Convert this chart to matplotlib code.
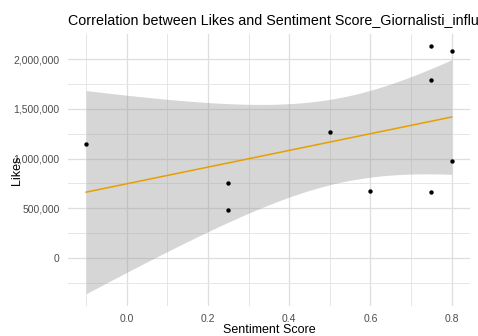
import numpy as np
import matplotlib
matplotlib.use("Agg")
import matplotlib.pyplot as plt
from matplotlib.ticker import FuncFormatter

plt.rcParams["font.family"] = ["Liberation Sans", "DejaVu Sans"]

# Sentiment score and like counts per post
sentiment = [-0.1, 0.25, 0.25, 0.5, 0.6, 0.75, 0.75, 0.75, 0.8, 0.8]
likes = [1150000, 750000, 480000, 1270000, 670000, 2130000, 1790000, 660000, 2080000, 980000]
x_ticks = [0.0, 0.2, 0.4, 0.6, 0.8]
y_ticks = [0, 500000, 1000000, 1500000, 2000000]

x = np.array(sentiment, dtype=float)
y = np.array(likes, dtype=float)
n = len(x)

# Ordinary least squares fit with a 95% confidence band
slope, intercept = np.polyfit(x, y, 1)
resid = y - (slope * x + intercept)
s = np.sqrt(np.sum(resid ** 2) / (n - 2))
t_crit = 2.306  # t(0.975, df=8)
xs = np.linspace(x.min(), x.max(), 80)
fit = slope * xs + intercept
se = s * np.sqrt(1 / n + (xs - x.mean()) ** 2 / np.sum((x - x.mean()) ** 2))
lo, hi = fit - t_crit * se, fit + t_crit * se

fig = plt.figure(figsize=(4.78, 3.36), dpi=100)
ax = fig.add_axes([0.142, 0.089, 0.841, 0.810])

ax.fill_between(xs, lo, hi, color="#999999", alpha=0.4, linewidth=0, zorder=2)
ax.plot(xs, fit, color="#E69F00", linewidth=1.1, zorder=3)
ax.scatter(x, y, s=10, color="black", zorder=4, linewidths=0)

xr = x.max() - x.min()
ax.set_xlim(x.min() - 0.05 * xr, x.max() + 0.05 * xr)
ymin, ymax = min(lo.min(), y.min()), max(hi.max(), y.max())
yr = ymax - ymin
ax.set_ylim(ymin - 0.05 * yr, ymax + 0.05 * yr)

ax.set_xticks(x_ticks)
ax.set_yticks(y_ticks)
ax.set_xticks([-0.1, 0.1, 0.3, 0.5, 0.7], minor=True)
ax.set_yticks([-250000, 250000, 750000, 1250000, 1750000], minor=True)
ax.xaxis.set_major_formatter(FuncFormatter(lambda v, p: f"{v:.1f}"))
ax.yaxis.set_major_formatter(FuncFormatter(lambda v, p: f"{int(round(v)):,}"))

ax.grid(which="major", color="#DEDEDE", linewidth=0.9, zorder=0)
ax.grid(which="minor", color="#E6E6E6", linewidth=0.7, zorder=0)
ax.set_axisbelow(True)
for sp in ax.spines.values():
    sp.set_visible(False)
ax.tick_params(which="both", length=0, labelsize=7.5, labelcolor="#4D4D4D", pad=6)

ax.set_xlabel("Sentiment Score", fontsize=9, labelpad=0)
ax.set_ylabel("Likes", fontsize=9, labelpad=-7)
ax.set_title("Correlation between Likes and Sentiment Score_Giornalisti_influencer",
             fontsize=10.3, loc="left", pad=7)

fig.savefig("out.png", dpi=100)
